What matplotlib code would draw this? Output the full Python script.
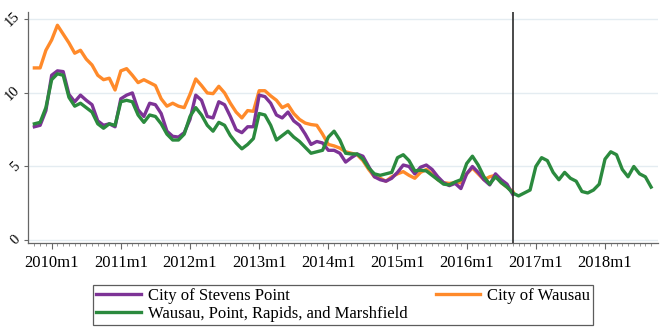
import matplotlib.pyplot as plt
import numpy as np

# Monthly unemployment rates (%), starting 2009m10
start_label = "2009m10"
cutoff_label = "2016m9"

region = [7.9, 8.0, 9.0,
          10.9, 11.3, 11.2, 9.7, 9.1, 9.3, 9.0, 8.7, 7.9, 7.6, 7.9, 7.8,
          9.4, 9.5, 9.4, 8.5, 8.0, 8.5, 8.4, 7.9, 7.2, 6.8, 6.8, 7.2,
          8.4, 9.0, 8.5, 7.8, 7.4, 8.0, 7.8, 7.1, 6.6, 6.2, 6.5, 6.9,
          8.6, 8.5, 7.8, 6.8, 7.1, 7.4, 7.0, 6.7, 6.3, 5.9, 6.0, 6.1,
          7.0, 7.4, 6.8, 5.9, 5.85, 5.85, 5.5, 4.9, 4.5, 4.4, 4.5, 4.6,
          5.6, 5.8, 5.4, 4.7, 4.75, 4.7, 4.4, 4.1, 3.8, 3.75, 3.95, 4.1,
          5.2, 5.7, 5.1, 4.3, 3.8, 4.3, 3.9, 3.6, 3.2, 3.0, 3.2, 3.4,
          5.0, 5.6, 5.4, 4.6, 4.1, 4.6, 4.2, 4.0, 3.3, 3.2, 3.4, 3.8,
          5.5, 6.0, 5.8, 4.8, 4.3, 5.0, 4.5, 4.3, 3.6]

stevens_point = [7.7, 7.8, 8.8,
                 11.2, 11.5, 11.45, 9.9, 9.4, 9.85, 9.5, 9.2, 8.1, 7.8, 7.9, 7.7,
                 9.6, 9.85, 10.0, 8.85, 8.4, 9.3, 9.2, 8.6, 7.4, 7.05, 7.0, 7.3,
                 8.2, 9.85, 9.5, 8.4, 8.3, 9.4, 9.2, 8.4, 7.5, 7.3, 7.7, 7.7,
                 9.85, 9.75, 9.3, 8.5, 8.3, 8.7, 8.1, 7.8, 7.2, 6.5, 6.7, 6.6,
                 6.1, 6.1, 5.9, 5.3, 5.6, 5.85, 5.7, 5.0, 4.3, 4.1, 4.0, 4.2,
                 4.6, 5.1, 5.0, 4.5, 4.95, 5.1, 4.8, 4.3, 3.9, 3.7, 3.85, 3.5,
                 4.5, 5.0, 4.6, 4.1, 3.75, 4.5, 4.1, 3.8, 3.1]

wausau = [11.7, 11.7, 12.9,
          13.6, 14.6, 14.0, 13.4, 12.7, 12.9, 12.3, 11.9, 11.2, 10.9, 11.0, 10.2,
          11.5, 11.65, 11.2, 10.7, 10.9, 10.7, 10.5, 9.6, 9.1, 9.3, 9.1, 9.0,
          9.9, 10.95, 10.5, 10.0, 9.95, 10.45, 10.0, 9.3, 8.7, 8.3, 8.8, 8.75,
          10.15, 10.15, 9.8, 9.5, 9.0, 9.2, 8.6, 8.2, 7.95, 7.85, 7.8, 7.2,
          6.5, 6.4, 6.25, 6.0, 5.9, 5.8, 5.4, 4.8, 4.3, 4.2, 4.0, 4.3,
          4.5, 4.65, 4.4, 4.2, 4.6, 4.8, 4.5, 4.1, 3.9, 3.85, 3.9, 3.9,
          4.5, 4.9, 4.5, 4.1, 4.3, 4.4, 3.9, 3.6, 3.3]

tick_labels = ["2010m1", "2011m1", "2012m1", "2013m1", "2014m1",
               "2015m1", "2016m1", "2017m1", "2018m1"]
y_ticks = [0, 5, 10, 15]

series_names = ["City of Stevens Point", "Wausau, Point, Rapids, and Marshfield",
                "City of Wausau"]
colors = {"purple": "#7d3396", "green": "#2b8a3e", "orange": "#ff8a2a"}


def month_index(label):
    year, month = label.split("m")
    return (int(year) - 2010) * 12 + int(month) - 1


t0 = month_index(start_label)
x_region = t0 + np.arange(len(region))
x_sp = t0 + np.arange(len(stevens_point))
x_wa = t0 + np.arange(len(wausau))

plt.rcParams["font.family"] = ["Liberation Serif", "DejaVu Serif"]
fs = 12

fig = plt.figure(figsize=(6.61, 3.29), dpi=100)
ax = fig.add_axes([0.0424, 0.2614, 0.9531, 0.7021])

ax.set_xlim(-4.1, 105.2)
ax.set_ylim(-0.2, 15.5)

for yv in y_ticks:
    ax.axhline(yv, color="#e4ecf1", lw=1.0, zorder=0)

lw = 2.4
l_sp, = ax.plot(x_sp, stevens_point, color=colors["purple"], lw=lw, zorder=3,
                solid_joinstyle="round")
l_wa, = ax.plot(x_wa, wausau, color=colors["orange"], lw=lw, zorder=2,
                solid_joinstyle="round")
l_rg, = ax.plot(x_region, region, color=colors["green"], lw=lw, zorder=4,
                solid_joinstyle="round")

ax.axvline(month_index(cutoff_label), color="#2b2b2b", lw=1.2, zorder=5)

major = [month_index(s) for s in tick_labels]
ax.set_xticks(major)
ax.set_xticklabels(tick_labels, fontsize=fs)
ax.set_xticks(np.arange(-3, 105), minor=True)
ax.tick_params(axis="x", which="major", length=4, width=0.8, color="#666666", pad=5)
ax.tick_params(axis="x", which="minor", length=2, width=0.6, color="#888888")

ax.set_yticks(y_ticks)
ax.set_yticklabels([str(v) for v in y_ticks], fontsize=10.5, rotation=45,
                   ha="right", va="center")
ax.tick_params(axis="y", length=3, width=0.8, color="#666666", pad=1)

for side in ("top", "right"):
    ax.spines[side].set_visible(False)
for side in ("left", "bottom"):
    ax.spines[side].set_color("#666666")
    ax.spines[side].set_linewidth(0.9)

leg = fig.legend([l_sp, l_rg, l_wa], series_names, ncol=2,
                 loc="center", bbox_to_anchor=(0.519, 0.073),
                 fontsize=fs, frameon=True, fancybox=False,
                 handlelength=2.65, handletextpad=0.42, columnspacing=1.7,
                 labelspacing=0.12, borderpad=0.2)
leg.get_frame().set_edgecolor("#333333")
leg.get_frame().set_linewidth(0.9)

fig.savefig("out.png", dpi=100)
